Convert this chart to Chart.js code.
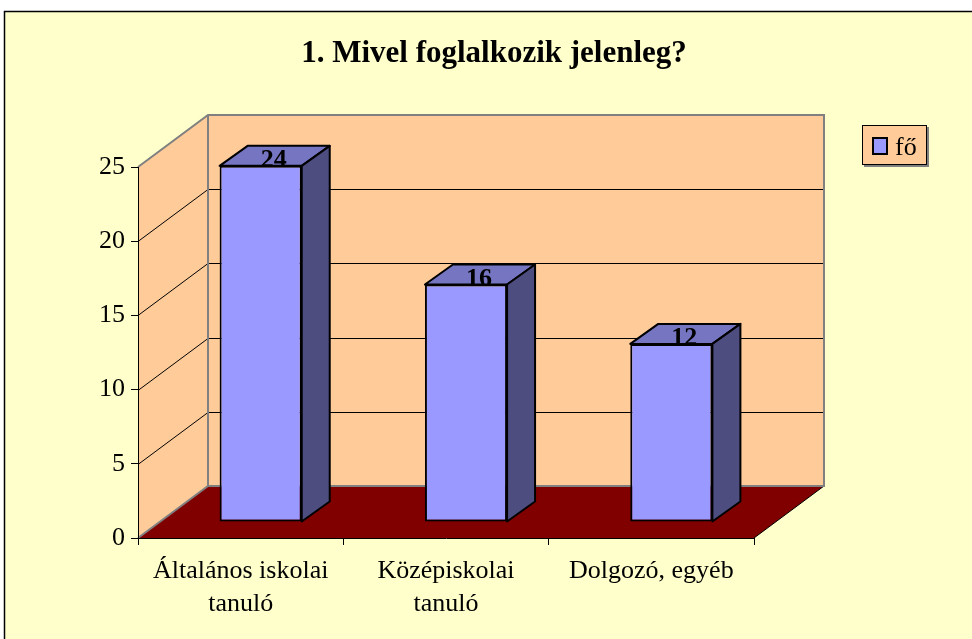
<!DOCTYPE html>
<html>
<head>
<meta charset="utf-8">
<script src="https://cdn.jsdelivr.net/npm/chart.js@4.4.1/dist/chart.umd.min.js"></script>
<style>
    html, body { margin: 0; padding: 0; background: #fff; }
    canvas { display: block; }
</style>
</head>
<body>
<canvas id="chart" width="972" height="639"></canvas>
<script>
const title = '1. Mivel foglalkozik jelenleg?';
const categories = [['Általános iskolai', 'tanuló'], ['Középiskolai', 'tanuló'], 'Dolgozó, egyéb'];
const values = [24, 16, 12];
const seriesName = 'fő';
const yMax = 25;
const yStep = 5;

// 3D look: how far the back wall sits behind the front plane, where the bars stand, how deep they are
const wallDepth = { x: 70, y: -52 };
const barShift = { x: 20, y: -16 };
const barDepth = { x: 28, y: -20 };

const serif = '"Liberation Serif", "Times New Roman", serif';

const poly = (ctx, pts) => {
    ctx.beginPath();
    ctx.moveTo(pts[0][0], pts[0][1]);
    pts.slice(1).forEach(p => ctx.lineTo(p[0], p[1]));
    ctx.closePath();
};

const line = (ctx, x1, y1, x2, y2) => {
    ctx.beginPath();
    ctx.moveTo(x1, y1);
    ctx.lineTo(x2, y2);
    ctx.stroke();
};

// background, walls, floor and wall gridlines
const wallsPlugin = {
    id: 'walls',
    beforeDraw(chart) {
        const { ctx, chartArea: a, scales: { y } } = chart;
        const dx = wallDepth.x, dy = wallDepth.y;
        ctx.save();
        ctx.fillStyle = '#ffffff';
        ctx.fillRect(0, 0, chart.width, chart.height);
        ctx.fillStyle = '#FFFFCC';
        ctx.fillRect(4, 11, chart.width, chart.height);
        ctx.strokeStyle = '#000';
        ctx.lineWidth = 1.5;
        ctx.strokeRect(4.5, 11.5, chart.width + 10, chart.height + 10);

        const top = y.getPixelForValue(yMax);
        const bottom = y.getPixelForValue(0);

        // side wall
        ctx.fillStyle = '#FFCC99';
        poly(ctx, [[a.left, bottom], [a.left, top], [a.left + dx, top + dy], [a.left + dx, bottom + dy]]);
        ctx.fill();
        // back wall
        ctx.fillRect(a.left + dx, top + dy, a.right - a.left, bottom - top);
        // floor
        ctx.fillStyle = '#800000';
        poly(ctx, [[a.left, bottom], [a.right, bottom], [a.right + dx, bottom + dy], [a.left + dx, bottom + dy]]);
        ctx.fill();

        // gridlines
        ctx.strokeStyle = '#000';
        ctx.lineWidth = 1;
        for (let v = yStep; v < yMax; v += yStep) {
            const py = Math.round(y.getPixelForValue(v)) + 0.5;
            line(ctx, a.left, py, a.left + dx, py + dy);
            line(ctx, a.left + dx, py + dy, a.right + dx, py + dy);
        }
        line(ctx, a.right, bottom, a.right + dx, bottom + dy);

        // wall edges
        ctx.strokeStyle = '#808080';
        ctx.lineWidth = 2;
        ctx.beginPath();
        ctx.moveTo(a.left, top);
        ctx.lineTo(a.left + dx, top + dy);
        ctx.lineTo(a.right + dx, top + dy);
        ctx.lineTo(a.right + dx, bottom + dy);
        ctx.lineTo(a.left + dx, bottom + dy);
        ctx.lineTo(a.left, bottom);
        ctx.moveTo(a.left + dx, top + dy);
        ctx.lineTo(a.left + dx, bottom + dy);
        ctx.stroke();
        ctx.restore();
    }
};

// bars: chart.js draws the front faces (shifted into the depth), we add top and side
const barsPlugin = {
    id: 'bars3d',
    beforeDatasetsDraw(chart) {
        chart.ctx.save();
        chart.ctx.translate(barShift.x, barShift.y);
    },
    afterDatasetsDraw(chart) {
        const ctx = chart.ctx;
        ctx.restore();
        ctx.save();
        ctx.lineWidth = 2;
        ctx.lineJoin = 'round';
        ctx.strokeStyle = '#000';
        const meta = chart.getDatasetMeta(0);
        meta.data.forEach((bar, i) => {
            const { x, y, base, width } = bar.getProps(['x', 'y', 'base', 'width'], true);
            const l = x - width / 2 + barShift.x;
            const r = x + width / 2 + barShift.x;
            const t = y + barShift.y;
            const b = base + barShift.y;
            const ddx = barDepth.x, ddy = barDepth.y;
            ctx.fillStyle = '#7575C2';
            poly(ctx, [[l, t], [r, t], [r + ddx, t + ddy], [l + ddx, t + ddy]]);
            ctx.fill();
            ctx.stroke();
            ctx.fillStyle = '#4D4D80';
            poly(ctx, [[r, t], [r + ddx, t + ddy], [r + ddx, b + ddy], [r, b]]);
            ctx.fill();
            ctx.stroke();

            ctx.fillStyle = '#000';
            ctx.font = 'bold 26px ' + serif;
            ctx.textAlign = 'center';
            ctx.textBaseline = 'alphabetic';
            ctx.fillText(String(values[i]), (l + r) / 2 + ddx / 2 - 1, t + 1);
        });
        ctx.restore();
    }
};

const titleLegendPlugin = {
    id: 'titleLegend',
    afterDraw(chart) {
        const ctx = chart.ctx;
        ctx.save();
        ctx.fillStyle = '#000';
        ctx.font = 'bold 31px ' + serif;
        ctx.textAlign = 'center';
        ctx.textBaseline = 'alphabetic';
        ctx.fillText(title, 494, 62);

        // legend box
        ctx.fillStyle = '#808080';
        ctx.fillRect(864, 127, 65, 40);
        ctx.fillStyle = '#FFCC99';
        ctx.fillRect(862, 125, 65, 40);
        ctx.strokeStyle = '#000';
        ctx.lineWidth = 1;
        ctx.strokeRect(862.5, 125.5, 64, 39);
        ctx.fillStyle = '#9999FF';
        ctx.fillRect(873, 138, 14, 16);
        ctx.lineWidth = 2;
        ctx.strokeRect(873, 138, 14, 16);
        ctx.fillStyle = '#000';
        ctx.font = '26px ' + serif;
        ctx.textAlign = 'left';
        ctx.fillText(seriesName, 895, 155);
        ctx.restore();
    }
};

new Chart(document.getElementById('chart'), {
    type: 'bar',
    data: {
        labels: categories,
        datasets: [{
            label: seriesName,
            data: values,
            backgroundColor: '#9999FF',
            borderColor: '#000',
            borderWidth: 2,
            borderSkipped: false,
            barPercentage: 0.4,
            categoryPercentage: 1,
            clip: false
        }]
    },
    options: {
        responsive: false,
        animation: false,
        layout: {
            padding: { left: 78, right: 218, top: 167, bottom: 11 }
        },
        plugins: {
            legend: { display: false },
            tooltip: { enabled: false }
        },
        scales: {
            x: {
                grid: { offset: true, drawOnChartArea: false, drawTicks: true, tickLength: 7, color: '#000' },
                border: { display: true, color: '#000', width: 1 },
                ticks: {
                    color: '#000',
                    font: { family: serif, size: 26, lineHeight: 1.27 },
                    padding: 10,
                    maxRotation: 0,
                    autoSkip: false
                },
                afterFit: (scale) => { scale.height = 90; }
            },
            y: {
                min: 0,
                max: yMax,
                grid: { drawOnChartArea: false, drawTicks: true, tickLength: 7, color: '#000' },
                border: { display: true, color: '#000', width: 1 },
                ticks: {
                    stepSize: yStep,
                    color: '#000',
                    font: { family: serif, size: 26 },
                    padding: 6
                },
                afterFit: (scale) => { scale.width = 60; }
            }
        }
    },
    plugins: [wallsPlugin, barsPlugin, titleLegendPlugin]
});
</script>
</body>
</html>
